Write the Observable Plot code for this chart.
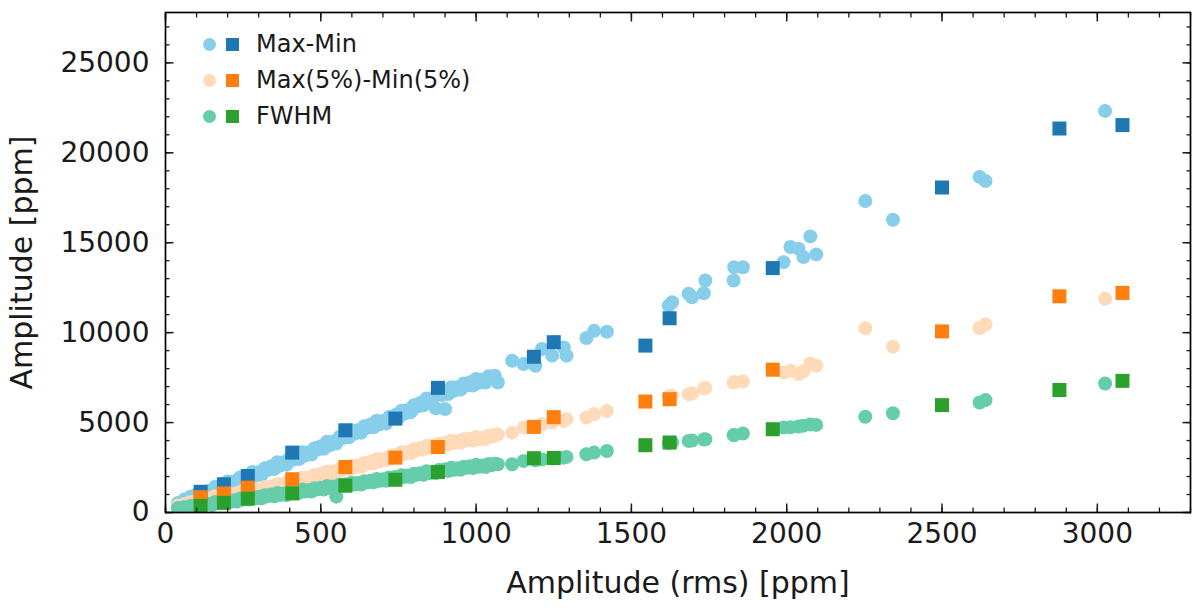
<!DOCTYPE html>
<html><head><meta charset="utf-8">
<script src="https://cdn.jsdelivr.net/npm/d3@7"></script>
<script src="https://cdn.jsdelivr.net/npm/@observablehq/plot@0.6"></script>
<style>
body{margin:0;background:#fff;}
#wrap{position:relative;width:1200px;height:608px;}
#legend{position:absolute;left:203px;top:26px;font-family:"DejaVu Sans";font-size:24px;color:#1a1a1a;}
.row{display:flex;align-items:center;height:36.2px;}
.c{width:13px;height:13px;border-radius:50%;display:inline-block;margin-right:10px}
.s{width:13px;height:13px;display:inline-block;margin-right:17px}
</style></head><body><div id="wrap"><div id="legend"></div></div>
<script>
// ---- data ----
const seriesNames = ["Max-Min", "Max(5%)-Min(5%)", "FWHM"];
const circleColors = ["#87CEEB", "#FFDAB9", "#66CDAA"];
const squareColors = ["#1f77b4", "#ff7f0e", "#2ca02c"];

const rmsCircles = [40,50,60,70,80,90,100,110,120,130,140,150,160,170,180,190,200,210,220,230,240,250,260,270,280,290,300,310,320,330,340,350,360,370,380,390,400,410,420,430,440,450,460,470,480,490,500,510,520,530,540,550,560,570,580,590,600,610,620,630,640,650,660,670,680,690,700,710,720,730,740,750,760,770,780,790,800,810,820,830,840,850,860,870,880,890,900,910,920,930,940,950,960,970,980,990,1000,1010,1020,1030,1040,1050,1060,1070,
  1116,1153,1191,1212,1245,1282,1291,1355,1380,1421,1620,1631,1684,1695,1733,1738,1829,1831,1859,1990,2012,2038,2054,2076,2095,2253,2342,2621,2640,3025];
const maxMinCircles = [530,535,716,683,881,872,998,946,1150,1090,1206,1080,1429,1336,1515,1354,1720,1535,1724,1590,1949,1866,2045,1884,2250,2055,2234,2100,2459,2376,2565,2414,2790,2605,2794,2660,3019,2936,3125,2974,3350,3165,3354,3220,3579,3496,3685,3544,3930,3755,3954,3830,4199,4126,4325,4184,4570,4385,4574,4440,4799,4716,4895,4734,5100,4905,5084,4950,5309,5226,5415,5264,5660,5495,5704,5590,5969,5896,6095,5954,6340,6165,6364,5800,6609,6536,5750,6584,6960,6775,6964,6830,7169,7066,7235,7064,7420,7215,7384,7230,7569,7466,7600,7230,
  8440,8250,8160,9090,8720,9180,8720,9700,10100,10050,11500,11690,12160,11970,12190,12900,12900,13640,13640,13920,14760,14670,14200,15350,14350,17320,16280,18660,18430,22330];
const max5Min5Circles = [380,365,460,443,570,568,645,616,742,703,774,700,900,840,940,840,1050,930,1030,940,1140,1080,1184,1088,1302,1186,1290,1206,1412,1358,1464,1370,1590,1480,1590,1510,1720,1676,1792,1708,1934,1830,1944,1868,2082,2036,2150,2060,2280,2170,2280,2200,2414,2368,2482,2396,2620,2510,2620,2540,2750,2700,2816,2732,2958,2854,2970,2900,3120,3080,3200,3120,3350,3250,3370,3300,3520,3470,3580,3490,3710,3600,3704,3618,3822,3766,3870,3772,3984,3866,3968,3880,4074,4008,4102,3996,4200,4076,4172,4078,4274,4210,4315,4330,
  4440,4720,4760,4900,5000,5090,5190,5280,5470,5650,6450,6490,6580,6620,6900,6920,7230,7250,7290,7790,7880,7700,7850,8290,8160,10240,9220,10260,10450,11880];
const fwhmCircles = [245,217,289,260,362,346,403,368,473,429,485,410,587,530,617,524,710,599,686,602,779,722,809,716,902,791,878,793,969,911,997,903,1088,976,1062,977,1153,1096,1183,1090,1276,1165,1252,1168,1345,1288,1375,1282,1468,1357,1444,880,1537,1480,1567,1474,1660,1551,1640,1558,1737,1682,1771,1680,1868,1759,1848,1766,1945,1890,1979,1888,2076,1967,2056,1974,2153,2099,2189,2099,2288,2180,2270,2189,2369,2315,2405,2309,2492,2378,2462,2375,2549,2489,2573,2477,2660,2541,2620,2527,2696,2631,2709,2680,
  2680,2870,2900,2950,3000,3050,3090,3240,3330,3420,3870,3890,3980,4000,4060,4070,4300,4310,4390,4720,4740,4780,4830,4890,4870,5320,5520,6120,6250,7170];

const rmsSquares = [113,188,265,408,579,740,877,1186,1250,1545,1623,1955,2500,2878,3081];
const maxMinSquares = [1150,1570,2030,3330,4570,5220,6930,8660,9470,9280,10800,13590,18070,21350,21540];
const max5Min5Squares = [850,1060,1380,1850,2530,3050,3640,4760,5300,6170,6300,7940,10070,12020,12210];
const fwhmSquares = [370,540,770,1060,1500,1820,2250,3020,3030,3740,3890,4630,5970,6810,7320];

const xTicks = [0,500,1000,1500,2000,2500,3000];
const yTicks = [0,5000,10000,15000,20000,25000];
const xMinor = d3.range(0, 3301, 100);
const yMinor = d3.range(0, 27801, 1000);
const xDomain = [0, 3300];
const yDomain = [0, 27800];

// ---- chart ----
const circleSets = [maxMinCircles, max5Min5Circles, fwhmCircles];
const squareSets = [maxMinSquares, max5Min5Squares, fwhmSquares];
const ci = d3.range(rmsCircles.length);
const si = d3.range(rmsSquares.length);

const marks = [];
circleSets.forEach((ys, k) => {
  marks.push(Plot.dot(ci, {x: i => rmsCircles[i], y: i => ys[i], r: 7, fill: circleColors[k], stroke: "none", clip: true}));
});
squareSets.forEach((ys, k) => {
  marks.push(Plot.dot(si, {x: i => rmsSquares[i], y: i => ys[i], r: 7.9, symbol: "square", fill: squareColors[k], stroke: "none", clip: true}));
});
// inward ticks on all four sides
for (const anchor of ["bottom", "top"]) {
  marks.push(Plot.axisX(xMinor, {anchor, tickSize: -4.5, fill: "none", label: null, strokeWidth: 1.3}));
  marks.push(Plot.axisX(xTicks, {anchor, tickSize: -8.5, fill: "none", label: null, strokeWidth: 1.5}));
}
for (const anchor of ["left", "right"]) {
  marks.push(Plot.axisY(yMinor, {anchor, tickSize: -4.5, fill: "none", label: null, strokeWidth: 1.3}));
  marks.push(Plot.axisY(yTicks, {anchor, tickSize: -8.5, fill: "none", label: null, strokeWidth: 1.5}));
}
// tick labels and axis titles
const fmt = d => String(d);
marks.push(Plot.axisX(xTicks, {anchor: "bottom", tickSize: 0, tickPadding: 11, fontSize: 28, tickFormat: fmt, label: null}));
marks.push(Plot.axisY(yTicks, {anchor: "left", tickSize: 0, tickPadding: 16, fontSize: 28, tickFormat: fmt, label: null}));
marks.push(Plot.axisX([], {anchor: "bottom", tickSize: 0, fontSize: 30, label: "Amplitude (rms) [ppm]", labelAnchor: "center", labelOffset: 80, labelArrow: "none"}));
marks.push(Plot.axisY([], {anchor: "left", tickSize: 0, fontSize: 30, label: "Amplitude [ppm]", labelAnchor: "center", labelOffset: 155, labelArrow: "none"}));
marks.push(Plot.frame({stroke: "#000", strokeWidth: 1.7}));

const chart = Plot.plot({
  width: 1200, height: 608,
  marginLeft: 165, marginRight: 10, marginTop: 12, marginBottom: 96,
  style: {fontFamily: "DejaVu Sans", fontSize: "28px", color: "#1a1a1a", background: "#fff"},
  x: {domain: xDomain, axis: null},
  y: {domain: yDomain, axis: null},
  marks
});
document.getElementById("wrap").prepend(chart);

// legend
const legend = document.getElementById("legend");
seriesNames.forEach((name, k) => {
  const row = document.createElement("div");
  row.className = "row";
  row.innerHTML = `<span class="c" style="background:${circleColors[k]}"></span><span class="s" style="background:${squareColors[k]}"></span><span>${name}</span>`;
  legend.appendChild(row);
});
</script></body></html>
